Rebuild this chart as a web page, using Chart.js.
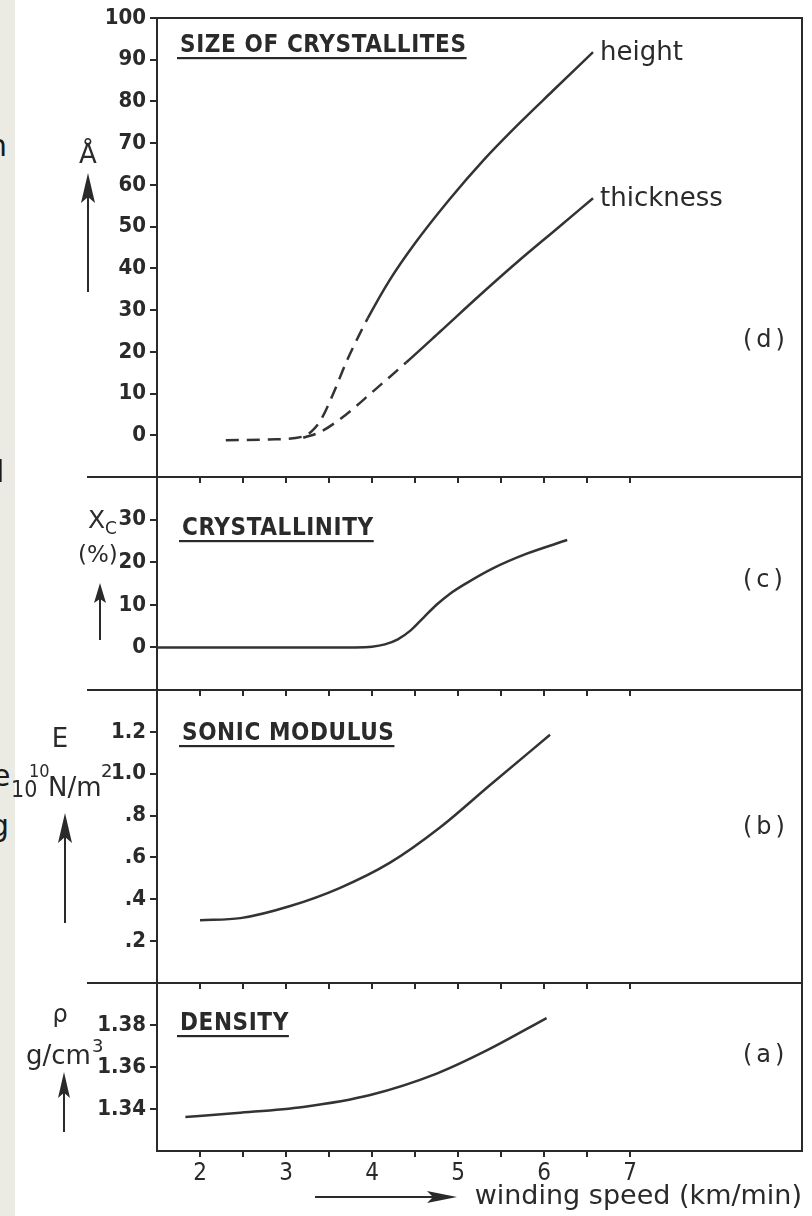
<!DOCTYPE html>
<html>
<head>
<meta charset="utf-8">
<script src="https://cdn.jsdelivr.net/npm/chart.js@4.4.1/dist/chart.umd.min.js"></script>
<style>
  html, body { margin: 0; padding: 0; background: #fff; }
  #page { position: relative; width: 812px; height: 1216px; overflow: hidden; background: #fff; }
  #page canvas { position: absolute; left: 0; }
  #strip { position: absolute; left: 0; top: 0; width: 15px; height: 1216px; background: #ecebe3; overflow: hidden; }
  #strip span { position: absolute; font: 30px "DejaVu Sans", sans-serif; color: #1a1a1a; line-height: 35px; }
</style>
</head>
<body>
<div id="page">
  <div id="strip">
    <span style="left:-12px; top:128px">n</span>
    <span style="left:-4px; top:454px">l</span>
    <span style="left:-8px; top:758px">e</span>
    <span style="left:-10px; top:808px">g</span>
  </div>
  <canvas id="panelD"></canvas>
  <canvas id="panelC"></canvas>
  <canvas id="panelB"></canvas>
  <canvas id="panelA"></canvas>
</div>
<script>
// winding speed ticks shared by all four panels (km/min)
const speedTicks = [2, 2.5, 3, 3.5, 4, 4.5, 5, 5.5, 6, 6.5, 7];

// (d) size of crystallites, Angstrom
const sizeTicks = [0, 10, 20, 30, 40, 50, 60, 70, 80, 90, 100];
const heightSpeed = [2.3, 2.8, 3.2, 3.3, 3.4, 3.55, 3.7, 3.85, 3.95, 4.2, 4.5, 4.9, 5.3, 5.7, 6.1, 6.57];
const heightSize = [-1.2, -1.0, -0.3, 1.0, 3.5, 10.0, 17.5, 24.0, 28.0, 37.0, 46.0, 56.5, 66.0, 74.5, 82.5, 91.8];
const heightDashedTo = 3.95;
const thickSpeed = [3.2, 3.4, 3.7, 4.0, 4.4, 4.8, 5.25, 5.7, 6.15, 6.57];
const thickSize = [-0.6, 0.8, 5.0, 10.3, 17.5, 25.0, 33.5, 41.7, 49.5, 56.8];
const thickDashedTo = 4.4;

// (c) crystallinity, %
const xcTicks = [0, 10, 20, 30];
const xcSpeed = [1.5, 2.5, 3.5, 3.8, 4.0, 4.15, 4.3, 4.45, 4.6, 4.75, 4.9, 5.1, 5.4, 5.8, 6.27];
const xcValue = [0, 0, 0, 0, 0.15, 0.7, 1.9, 4.0, 7.0, 10.0, 12.5, 15.1, 18.5, 22.0, 25.2];

// (b) sonic modulus, 10^10 N/m2
const modTicks = [0.2, 0.4, 0.6, 0.8, 1.0, 1.2];
const modLabels = ['.2', '.4', '.6', '.8', '1.0', '1.2'];
const modSpeed = [2.0, 2.47, 3.05, 3.63, 4.21, 4.79, 5.37, 6.07];
const modValue = [0.30, 0.31, 0.368, 0.455, 0.575, 0.743, 0.945, 1.186];

// (a) density, g/cm3
const denTicks = [1.34, 1.36, 1.38];
const denSpeed = [1.83, 2.43, 3.20, 3.98, 4.76, 5.34, 6.03];
const denValue = [1.3362, 1.3381, 1.341, 1.3467, 1.357, 1.368, 1.3833];

const ink = '#2a2a2a';
const curveInk = '#333333';
const SANS = '"DejaVu Sans", sans-serif';
const COND = '"DejaVu Sans Condensed", "DejaVu Sans", sans-serif';

function pts(xs, ys) {
    return xs.map((x, i) => ({ x: x, y: ys[i] }));
}

function put(ctx, str, x, y, font, align, baseline) {
    ctx.font = font;
    ctx.textAlign = align || 'left';
    ctx.textBaseline = baseline || 'alphabetic';
    ctx.fillText(str, x, y);
}

function heading(ctx, str, x, y) {
    ctx.font = 'bold 24px ' + COND;
    ctx.letterSpacing = '0.6px';
    ctx.textAlign = 'left';
    ctx.textBaseline = 'alphabetic';
    ctx.fillText(str, x, y);
    const w = ctx.measureText(str).width;
    ctx.letterSpacing = '0px';
    ctx.fillRect(x - 3, y + 5, w + 3, 2.2);
}

function tag(ctx, str, x, y) {
    ctx.font = '24px ' + SANS;
    ctx.letterSpacing = '4px';
    ctx.textAlign = 'left';
    ctx.textBaseline = 'middle';
    ctx.fillText(str, x, y);
    ctx.letterSpacing = '0px';
}

function arrowUp(ctx, x, yBottom, yTip, half, len) {
    ctx.beginPath();
    ctx.moveTo(x, yBottom);
    ctx.lineTo(x, yTip + len * 0.6);
    ctx.stroke();
    ctx.beginPath();
    ctx.moveTo(x, yTip);
    ctx.lineTo(x + half, yTip + len);
    ctx.lineTo(x, yTip + len * 0.8);
    ctx.lineTo(x - half, yTip + len);
    ctx.closePath();
    ctx.fill();
}

function arrowRight(ctx, xStart, xTip, y, half, len) {
    ctx.beginPath();
    ctx.moveTo(xStart, y);
    ctx.lineTo(xTip - len * 0.6, y);
    ctx.stroke();
    ctx.beginPath();
    ctx.moveTo(xTip, y);
    ctx.lineTo(xTip - len, y - half);
    ctx.lineTo(xTip - len * 0.8, y);
    ctx.lineTo(xTip - len, y + half);
    ctx.closePath();
    ctx.fill();
}

// label placed just right of a curve's last point
function endLabel(ctx, chart, index, str, top) {
    const meta = chart.getDatasetMeta(index);
    const p = meta.data[meta.data.length - 1];
    put(ctx, str, p.x + 7, p.y + top + 8, '26px ' + SANS);
}

function dashedUpTo(xs, limit) {
    return ctx => (xs[ctx.p1DataIndex] <= limit ? [13, 8] : undefined);
}

function framePlugin(cfg) {
    return {
        id: 'frame' + cfg.id,
        afterDraw(chart) {
            const { ctx, chartArea: a } = chart;
            ctx.save();
            ctx.strokeStyle = ink;
            ctx.fillStyle = ink;
            ctx.lineWidth = 2;
            ctx.beginPath();
            ctx.moveTo(cfg.ruleFrom, a.top);
            ctx.lineTo(a.right, a.top);
            ctx.lineTo(a.right, a.bottom);
            ctx.stroke();
            ctx.translate(0, -cfg.canvasTop);
            cfg.decorate(ctx, chart, cfg.canvasTop);
            ctx.restore();
        }
    };
}

function makePanel(cfg) {
    const canvas = document.getElementById(cfg.id);
    canvas.width = 812;
    canvas.height = cfg.canvasH;
    canvas.style.top = cfg.canvasTop + 'px';

    const xOpts = {
        type: 'linear',
        position: 'bottom',
        min: 1.5,
        max: 9,
        afterBuildTicks: s => { s.ticks = speedTicks.map(v => ({ value: v })); },
        afterFit: s => { s.height = cfg.axisH; },
        grid: { drawOnChartArea: false, drawTicks: true, tickLength: 6, color: ink, lineWidth: 2 },
        border: { display: true, color: ink, width: 2 },
        ticks: {
            display: !!cfg.showSpeed,
            autoSkip: false,
            maxRotation: 0,
            padding: 2,
            color: ink,
            font: { family: COND, size: 24 },
            callback: v => (Number.isInteger(v) ? String(v) : '')
        }
    };
    if (cfg.showSpeed) {
        xOpts.title = {
            display: true,
            text: 'winding speed (km/min)',
            align: 'end',
            color: ink,
            font: { family: SANS, size: 27 },
            padding: { top: 0, bottom: 3 }
        };
    }

    return new Chart(canvas, {
        type: 'line',
        data: { datasets: cfg.datasets },
        options: {
            responsive: false,
            animation: false,
            devicePixelRatio: 1,
            layout: { padding: { top: cfg.chartTop - cfg.canvasTop, right: 10, bottom: 0, left: 0 } },
            plugins: { legend: { display: false }, tooltip: { enabled: false } },
            elements: {
                point: { radius: 0 },
                line: { borderWidth: 2.5, borderColor: curveInk, cubicInterpolationMode: 'monotone', fill: false }
            },
            scales: {
                x: xOpts,
                y: {
                    type: 'linear',
                    min: cfg.yMin,
                    max: cfg.yMax,
                    afterBuildTicks: s => { s.ticks = cfg.yTicks.map(v => ({ value: v })); },
                    afterFit: s => { s.width = 157; },
                    grid: { drawOnChartArea: false, drawTicks: true, tickLength: 7, color: ink, lineWidth: 2 },
                    border: { display: true, color: ink, width: 2 },
                    ticks: {
                        padding: 4,
                        color: ink,
                        font: { family: COND, size: 22, weight: 'bold' },
                        callback: (v, i) => cfg.yLabels[i]
                    }
                }
            }
        },
        plugins: [framePlugin(cfg)]
    });
}

makePanel({
    id: 'panelD', canvasTop: 0, canvasH: 500, chartTop: 18, axisH: 23, ruleFrom: 157,
    yMin: -10, yMax: 100, yTicks: sizeTicks, yLabels: sizeTicks.map(String),
    datasets: [
        { data: pts(heightSpeed, heightSize), segment: { borderDash: dashedUpTo(heightSpeed, heightDashedTo) } },
        { data: pts(thickSpeed, thickSize), segment: { borderDash: dashedUpTo(thickSpeed, thickDashedTo) } }
    ],
    decorate(ctx, chart, top) {
        heading(ctx, 'SIZE OF CRYSTALLITES', 180, 52);
        tag(ctx, '(d)', 743, 341);
        put(ctx, 'Å', 88, 163, '26px ' + SANS, 'center');
        arrowUp(ctx, 88, 292, 173, 7, 30);
        endLabel(ctx, chart, 0, 'height', top);
        endLabel(ctx, chart, 1, 'thickness', top);
    }
});

makePanel({
    id: 'panelC', canvasTop: 447, canvasH: 266, chartTop: 477, axisH: 23, ruleFrom: 87,
    yMin: -10, yMax: 40, yTicks: xcTicks, yLabels: xcTicks.map(String),
    datasets: [{ data: pts(xcSpeed, xcValue) }],
    decorate(ctx) {
        heading(ctx, 'CRYSTALLINITY', 182, 535);
        tag(ctx, '(c)', 743, 581);
        put(ctx, 'X', 88, 528, '25px ' + SANS);
        put(ctx, 'C', 105, 534, '17px ' + SANS);
        put(ctx, '(%)', 78, 562, '23px ' + SANS);
        arrowUp(ctx, 100, 640, 583, 6, 20);
    }
});

makePanel({
    id: 'panelB', canvasTop: 660, canvasH: 346, chartTop: 690, axisH: 23, ruleFrom: 87,
    yMin: 0, yMax: 1.4, yTicks: modTicks, yLabels: modLabels,
    datasets: [{ data: pts(modSpeed, modValue) }],
    decorate(ctx) {
        heading(ctx, 'SONIC MODULUS', 182, 740);
        tag(ctx, '(b)', 743, 828);
        put(ctx, 'E', 60, 747, '26px ' + SANS, 'center');
        put(ctx, '10', 11, 797, '23px ' + COND);
        put(ctx, '10', 29, 777, '18px ' + COND);
        put(ctx, 'N/m', 48, 796, '26px ' + SANS);
        put(ctx, '2', 101, 777, '18px ' + SANS);
        arrowUp(ctx, 65, 923, 813, 7, 30);
    }
});

makePanel({
    id: 'panelA', canvasTop: 953, canvasH: 263, chartTop: 983, axisH: 65, ruleFrom: 87, showSpeed: true,
    yMin: 1.32, yMax: 1.40, yTicks: denTicks, yLabels: denTicks.map(v => v.toFixed(2)),
    datasets: [{ data: pts(denSpeed, denValue) }],
    decorate(ctx) {
        heading(ctx, 'DENSITY', 180, 1030);
        tag(ctx, '(a)', 743, 1056);
        put(ctx, 'ρ', 60, 1022, '24px ' + SANS, 'center');
        put(ctx, 'g/cm', 26, 1064, '26px ' + SANS);
        put(ctx, '3', 92, 1052, '18px ' + SANS);
        arrowUp(ctx, 64, 1132, 1072, 6, 26);
        arrowRight(ctx, 315, 457, 1197, 6, 30);
    }
});
</script>
</body>
</html>
